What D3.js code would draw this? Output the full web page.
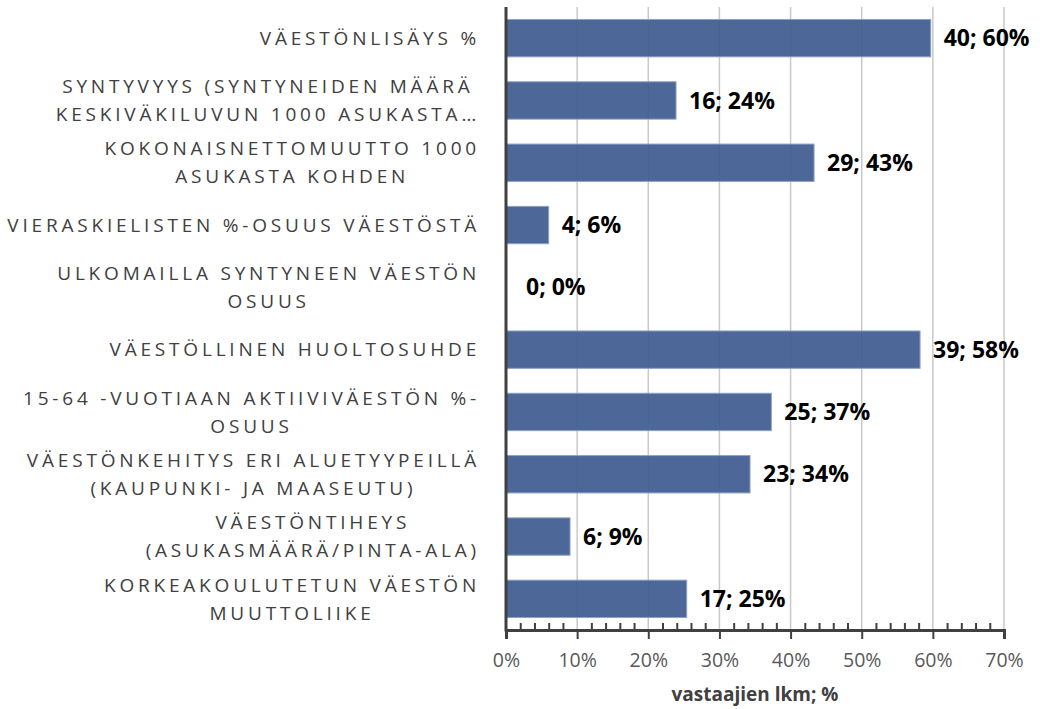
<!DOCTYPE html>
<html>
<head>
<meta charset="utf-8">
<script src="https://cdn.jsdelivr.net/npm/d3@7"></script>
<style>
  body { margin: 0; background: #fff; }
  svg { display: block; }
</style>
</head>
<body>
<script>
// category labels, already wrapped the way the original shows them
const categoryLines = [
	["VÄESTÖNLISÄYS %"],
	["SYNTYVYYS (SYNTYNEIDEN MÄÄRÄ", "KESKIVÄKILUVUN 1000 ASUKASTA…"],
	["KOKONAISNETTOMUUTTO 1000", "ASUKASTA KOHDEN"],
	["VIERASKIELISTEN %-OSUUS VÄESTÖSTÄ"],
	["ULKOMAILLA SYNTYNEEN VÄESTÖN", "OSUUS"],
	["VÄESTÖLLINEN HUOLTOSUHDE"],
	["15-64 -VUOTIAAN AKTIIVIVÄESTÖN %-", "OSUUS"],
	["VÄESTÖNKEHITYS ERI ALUETYYPEILLÄ", "(KAUPUNKI- JA MAASEUTU)"],
	["VÄESTÖNTIHEYS", "(ASUKASMÄÄRÄ/PINTA-ALA)"],
	["KORKEAKOULUTETUN VÄESTÖN", "MUUTTOLIIKE"]
];
const counts = [40, 16, 29, 4, 0, 39, 25, 23, 6, 17];
const percents = [59.7, 23.9, 43.3, 6.0, 0, 58.2, 37.3, 34.3, 9.0, 25.4];
const percentLabels = [60, 24, 43, 6, 0, 58, 37, 34, 9, 25];
const xTicks = [0, 10, 20, 30, 40, 50, 60, 70];
const axisTitle = "vastaajien lkm; %";

const width = 1040;
const height = 709;
const margin = {top: 7, left: 506, right: 36, bottom: 79};
const plotW = width - margin.left - margin.right;
const plotH = height - margin.top - margin.bottom;

const svg = d3.select("body")
	.append("svg")
	.attr("width", width)
	.attr("height", height);

const scaleX = d3.scaleLinear().domain([0, 70]).range([0, plotW]);
const scaleY = d3.scaleBand()
	.domain(d3.range(categoryLines.length))
	.range([0, plotH])
	.paddingInner(0.4)
	.paddingOuter(0.2);

const plot = svg.append("g")
	.attr("transform", `translate(${margin.left},${margin.top})`);

// gridlines
plot.append("g")
	.selectAll("line")
	.data(xTicks.slice(1))
	.join("line")
	.attr("x1", d => scaleX(d))
	.attr("x2", d => scaleX(d))
	.attr("y1", 0)
	.attr("y2", plotH)
	.attr("stroke", "#c9c9c9")
	.attr("stroke-width", 1.5);

// bars
plot.append("g")
	.selectAll("rect")
	.data(percents)
	.join("rect")
	.attr("x", 0)
	.attr("y", (d, i) => scaleY(i))
	.attr("width", d => scaleX(d))
	.attr("height", scaleY.bandwidth())
	.attr("fill", "#3f5b91")
	.attr("fill-opacity", 0.93)
	.attr("stroke", "#8da2c8")
	.attr("stroke-width", d => d > 0 ? 1 : 0);

// data labels
plot.append("g")
	.selectAll("text")
	.data(percents)
	.join("text")
	.attr("x", d => scaleX(d) + (d > 0 ? 13 : 20))
	.attr("y", (d, i) => scaleY(i) + scaleY.bandwidth() / 2)
	.attr("dy", "0.35em")
	.attr("font-family", "'Open Sans', sans-serif")
	.attr("font-weight", "bold")
	.attr("font-size", 23)
	.attr("fill", "#000")
	.text((d, i) => `${counts[i]}; ${percentLabels[i]}%`);

// bottom axis: major ticks out, minor ticks in
const axisMajor = d3.axisBottom(scaleX)
	.tickValues(xTicks)
	.tickSize(9)
	.tickPadding(14)
	.tickFormat(d => d + "%");

const gx = plot.append("g")
	.attr("transform", `translate(0,${plotH})`)
	.call(axisMajor);
gx.select(".domain").attr("stroke", "#404040").attr("stroke-width", 3);
gx.selectAll(".tick line").attr("stroke", "#404040").attr("stroke-width", 2);
gx.selectAll(".tick text")
	.attr("font-family", "'Open Sans', sans-serif")
	.attr("font-size", 19.5)
	.attr("fill", "#595959");

const axisMinor = d3.axisBottom(scaleX)
	.tickValues(d3.range(0, 71, 2).filter(v => v % 10 !== 0))
	.tickSize(-7)
	.tickFormat("");
const gm = plot.append("g")
	.attr("transform", `translate(0,${plotH})`)
	.call(axisMinor);
gm.select(".domain").remove();
gm.selectAll(".tick line").attr("stroke", "#404040").attr("stroke-width", 2);

// left axis line
plot.append("line")
	.attr("x1", 0).attr("x2", 0)
	.attr("y1", 0).attr("y2", plotH + 1.5)
	.attr("stroke", "#404040")
	.attr("stroke-width", 3);

// category labels
const labelRight = margin.left - 26;
const lineH = 28;
categoryLines.forEach((lines, i) => {
	const cy = margin.top + scaleY(i) + scaleY.bandwidth() / 2;
	const g = svg.append("g");
	const texts = g.selectAll("text")
		.data(lines)
		.join("text")
		.attr("font-family", "'Open Sans', sans-serif")
		.attr("font-size", 19)
		.attr("letter-spacing", "3.8px")
		.attr("fill", "#404040")
		.attr("text-anchor", "middle")
		.attr("dy", "0.35em")
		.attr("y", (d, j) => cy + (j - (lines.length - 1) / 2) * lineH)
		.text(d => d);
	let maxW = 0;
	texts.each(function() {
		maxW = Math.max(maxW, this.getComputedTextLength());
	});
	texts.attr("x", labelRight - maxW / 2);
});

// axis title
svg.append("text")
	.attr("x", margin.left + plotW / 2)
	.attr("y", 694)
	.attr("dy", "0.35em")
	.attr("text-anchor", "middle")
	.attr("font-family", "'Open Sans', sans-serif")
	.attr("font-weight", "bold")
	.attr("font-size", 19)
	.attr("fill", "#404040")
	.text(axisTitle);
</script>
</body>
</html>
